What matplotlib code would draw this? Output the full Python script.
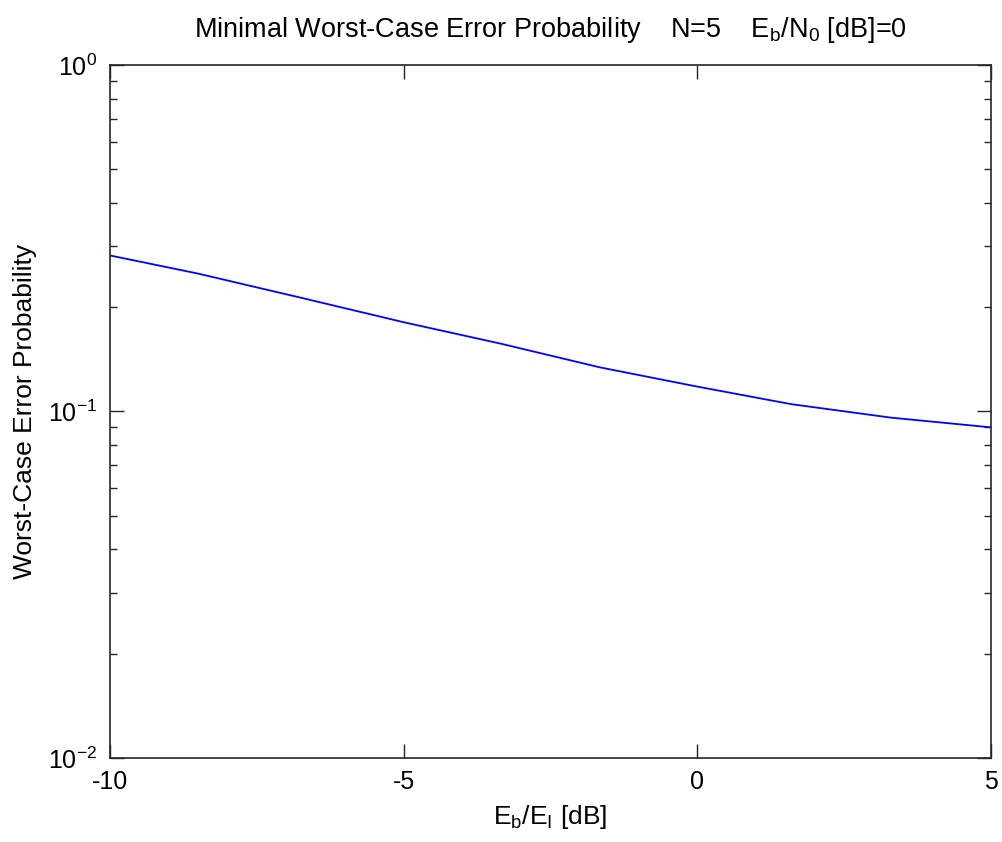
import matplotlib
matplotlib.use("Agg")
import matplotlib.pyplot as plt
from matplotlib.ticker import LogLocator, NullFormatter, FixedLocator

plt.rcParams["font.family"] = ["Liberation Sans", "DejaVu Sans"]
plt.rcParams["mathtext.fontset"] = "custom"
plt.rcParams["mathtext.rm"] = "Liberation Sans"
plt.rcParams["mathtext.it"] = "Liberation Sans"
plt.rcParams["mathtext.default"] = "rm"

# values
eb_ei_db = [-10, -8.5, -6.75, -5, -3.35, -1.65, 0, 1.6, 3.3, 5]
worst_case_pe = [0.282, 0.250, 0.213, 0.181, 0.157, 0.134, 0.118, 0.105, 0.096, 0.090]

x_ticks = [-10, -5, 0, 5]
y_ticks = [1e-2, 1e-1, 1e0]
y_tick_labels = ["$10^{-2}$", "$10^{-1}$", "$10^{0}$"]

fig = plt.figure(figsize=(10.02, 8.42), dpi=100, facecolor="white")
ax = fig.add_axes([0.1098, 0.0998, 0.8789, 0.8230])

ax.plot(eb_ei_db, worst_case_pe, color="#0000ff", linewidth=1.3)

ax.set_yscale("log")
ax.set_xlim(-10, 5)
ax.set_ylim(1e-2, 1e0)
ax.set_xticks(x_ticks)
ax.set_xticklabels([str(t) for t in x_ticks])
ax.yaxis.set_major_locator(FixedLocator(y_ticks))
ax.set_yticklabels(y_tick_labels)
ax.yaxis.set_minor_locator(LogLocator(base=10, subs=range(2, 10)))
ax.yaxis.set_minor_formatter(NullFormatter())

for spine in ax.spines.values():
    spine.set_color("#262626")
    spine.set_linewidth(1.2)
ax.tick_params(which="both", direction="in", top=True, right=True,
               colors="#262626", labelcolor="black", labelsize=18)
ax.tick_params(which="major", length=10, width=1, pad=9)
ax.tick_params(which="minor", length=5, width=1)

ax.set_xlabel("E$_b$/E$_I$ [dB]", fontsize=19, labelpad=6)
ax.set_ylabel("Worst-Case Error Probability", fontsize=19, labelpad=8)
ax.set_title("Minimal Worst-Case Error Probability    N=5    E$_b$/N$_0$ [dB]=0",
             fontsize=19.5, pad=20)

fig.savefig("out.png", dpi=100, facecolor="white")
